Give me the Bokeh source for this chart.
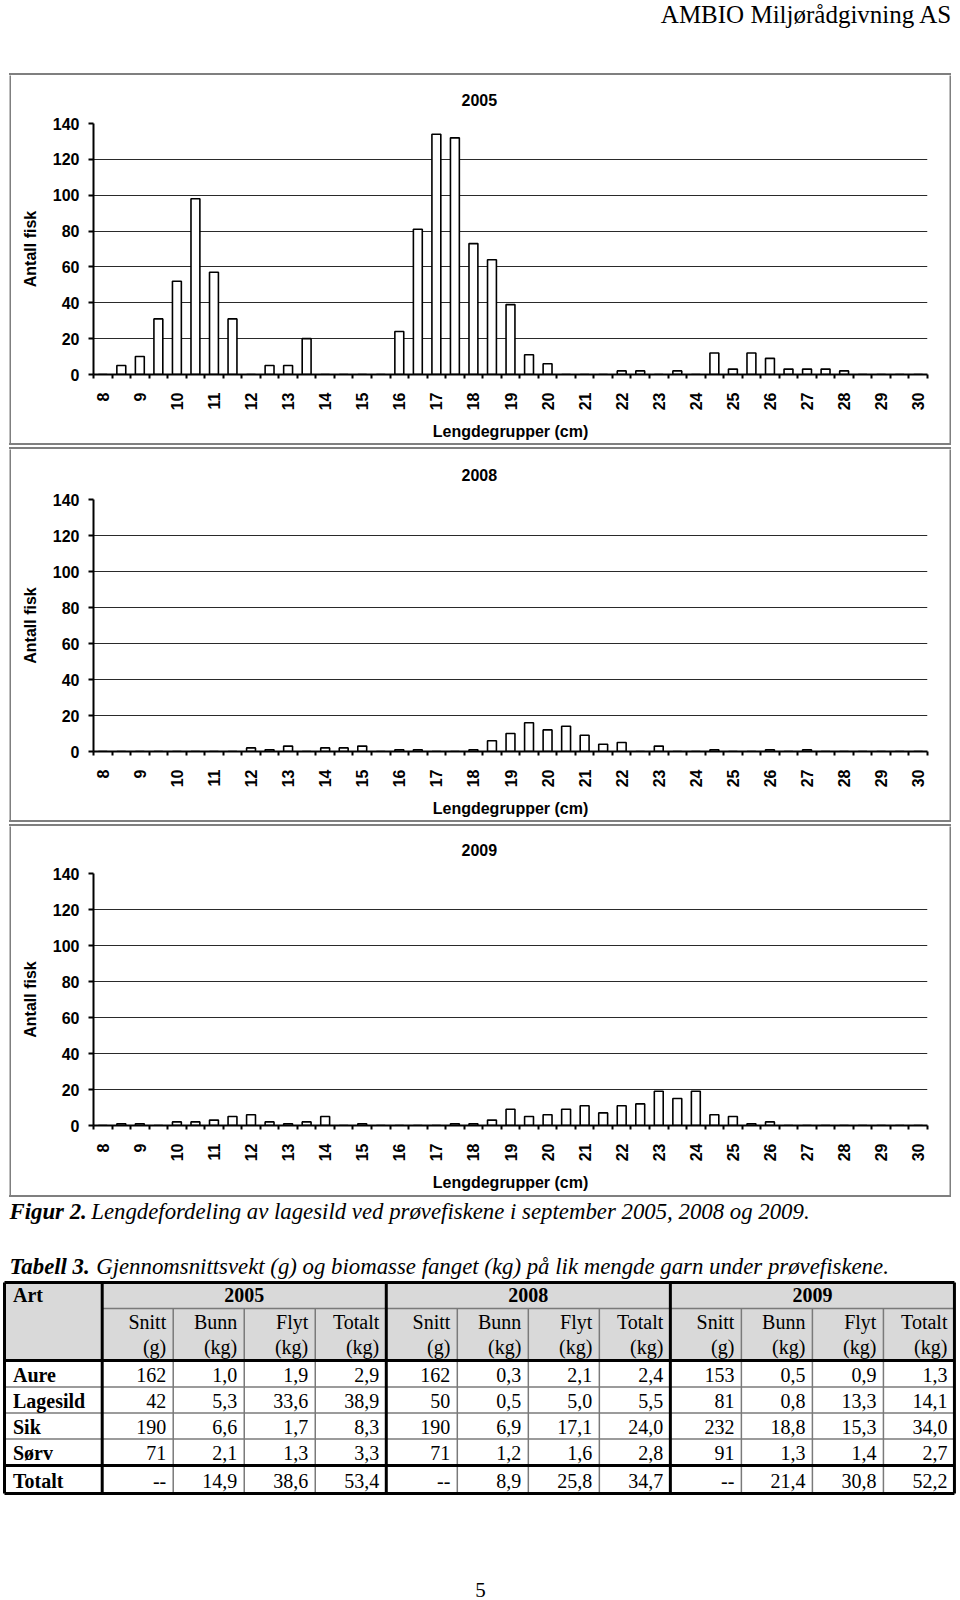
import math
from bokeh.plotting import figure
from bokeh.models import Range1d, FixedTicker, Spacer
from bokeh.layouts import column, row
from bokeh.core.properties import value
from bokeh.embed import file_html
from bokeh.resources import INLINE

# ---------------- data ----------------
lengths = [8, 8.5, 9, 9.5, 10, 10.5, 11, 11.5, 12, 12.5, 13, 13.5, 14, 14.5, 15, 15.5,
           16, 16.5, 17, 17.5, 18, 18.5, 19, 19.5, 20, 20.5, 21, 21.5, 22, 22.5, 23, 23.5,
           24, 24.5, 25, 25.5, 26, 26.5, 27, 27.5, 28, 28.5, 29, 29.5, 30]
tick_labels = [8, 9, 10, 11, 12, 13, 14, 15, 16, 17, 18, 19, 20, 21, 22, 23, 24, 25, 26,
               27, 28, 29, 30]
y_ticks = [0, 20, 40, 60, 80, 100, 120, 140]

counts_2005 = [0, 5, 10, 31, 52, 98, 57, 31, 0, 5, 5, 20, 0, 0, 0, 0,
               24, 81, 134, 132, 73, 64, 39, 11, 6, 0, 0, 0, 2, 2, 0, 2,
               0, 12, 3, 12, 9, 3, 3, 3, 2, 0, 0, 0, 0]
counts_2008 = [0, 0, 0, 0, 0, 0, 0, 0, 2, 1, 3, 0, 2, 2, 3, 0,
               1, 1, 0, 0, 1, 6, 10, 16, 12, 14, 9, 4, 5, 0, 3, 0,
               0, 1, 0, 0, 1, 0, 1, 0, 0, 0, 0, 0, 0]
counts_2009 = [0, 1, 1, 0, 2, 2, 3, 5, 6, 2, 1, 2, 5, 0, 1, 0,
               0, 0, 0, 1, 1, 3, 9, 5, 6, 9, 11, 7, 11, 12, 19, 15,
               19, 6, 5, 1, 2, 0, 0, 0, 0, 0, 0, 0, 0]

header_text = "AMBIO Miljørådgivning AS"
fig_caption_bold = "Figur 2."
fig_caption = "Lengdefordeling av lagesild ved prøvefiskene i september 2005, 2008 og 2009."
tab_caption_bold = "Tabell 3."
tab_caption = "Gjennomsnittsvekt (g) og biomasse fanget (kg) på lik mengde garn under prøvefiskene."

table_years = ["2005", "2008", "2009"]
table_cols = ["Snitt", "Bunn", "Flyt", "Totalt"]
table_units = ["(g)", "(kg)", "(kg)", "(kg)"]
species = ["Aure", "Lagesild", "Sik", "Sørv", "Totalt"]
vals_2005 = [["162", "1,0", "1,9", "2,9"], ["42", "5,3", "33,6", "38,9"],
             ["190", "6,6", "1,7", "8,3"], ["71", "2,1", "1,3", "3,3"],
             ["--", "14,9", "38,6", "53,4"]]
vals_2008 = [["162", "0,3", "2,1", "2,4"], ["50", "0,5", "5,0", "5,5"],
             ["190", "6,9", "17,1", "24,0"], ["71", "1,2", "1,6", "2,8"],
             ["--", "8,9", "25,8", "34,7"]]
vals_2009 = [["153", "0,5", "0,9", "1,3"], ["81", "0,8", "13,3", "14,1"],
             ["232", "18,8", "15,3", "34,0"], ["91", "1,3", "1,4", "2,7"],
             ["--", "21,4", "30,8", "52,2"]]
page_number = "5"

SANS = "Liberation Sans"
SERIF = "Liberation Serif"
BOX_GRAY = "#7f7f7f"


def gray(w, h):
    g = figure(width=w, height=h, output_backend="svg", toolbar_location=None,
               min_border=0, x_axis_location=None, y_axis_location=None,
               title_location=None, frame_align=False)
    g.outline_line_color = None
    g.xgrid.visible = False
    g.ygrid.visible = False
    g.background_fill_color = BOX_GRAY
    g.border_fill_color = BOX_GRAY
    return g


def hline(w):
    return Spacer(width=w, height=2, styles={"background-color": BOX_GRAY})


def make_chart(year, counts, height, top_border):
    frame_h = 252
    p = figure(width=938, height=height, output_backend="svg", toolbar_location=None,
               x_range=Range1d(7.75, 30.25), y_range=Range1d(0, 140),
               min_border_left=82, min_border_right=22, min_border_top=top_border,
               min_border_bottom=height - top_border - frame_h,
               frame_align=False)
    p.outline_line_color = None
    p.background_fill_color = "white"
    p.border_fill_color = "white"

    p.title.text = year
    p.title.align = "left"
    p.title.vertical_align = "top"
    p.title.offset = 368
    p.title.standoff = top_border - 16
    p.title.text_font = SANS
    p.title.text_font_size = "16px"
    p.title.text_font_style = "bold"
    p.title.text_color = "black"

    p.vbar(x=lengths, top=counts, bottom=0, width=0.24, fill_color="white",
           line_color="black", line_width=1.6)

    xa = p.xaxis[0]
    xa.ticker = FixedTicker(ticks=tick_labels,
                            minor_ticks=[7.75 + 0.5 * k for k in range(46)])
    xa.major_tick_out = 0
    xa.major_tick_in = 0
    xa.minor_tick_out = 4
    xa.minor_tick_in = 0
    xa.minor_tick_line_color = "black"
    xa.minor_tick_line_width = 2
    xa.axis_line_width = 2
    xa.axis_line_color = "black"
    xa.major_label_orientation = math.pi / 2
    xa.major_label_standoff = 14
    xa.major_label_text_font = SANS
    xa.major_label_text_font_size = "16px"
    xa.major_label_text_font_style = "bold"
    xa.major_label_text_color = "black"
    xa.axis_label = "Lengdegrupper (cm)"
    xa.axis_label_text_font = SANS
    xa.axis_label_text_font_size = "16px"
    xa.axis_label_text_font_style = "bold"
    xa.axis_label_text_color = "black"
    xa.axis_label_standoff = 10

    ya = p.yaxis[0]
    ya.ticker = FixedTicker(ticks=y_ticks)
    ya.major_tick_out = 5
    ya.major_tick_in = 0
    ya.major_tick_line_width = 2
    ya.minor_tick_out = 0
    ya.minor_tick_in = 0
    ya.axis_line_width = 2
    ya.axis_line_color = "black"
    ya.major_label_standoff = 9
    ya.major_label_text_font = SANS
    ya.major_label_text_font_size = "16px"
    ya.major_label_text_font_style = "bold"
    ya.major_label_text_color = "black"
    ya.axis_label = "Antall fisk"
    ya.axis_label_text_font = SANS
    ya.axis_label_text_font_size = "16px"
    ya.axis_label_text_font_style = "bold"
    ya.axis_label_text_color = "black"
    ya.axis_label_standoff = 11

    p.xgrid.visible = False
    p.ygrid.ticker = FixedTicker(ticks=y_ticks)
    p.ygrid.grid_line_color = "#2a2a2a"
    p.ygrid.grid_line_width = 1
    return p


def boxed(chart, height, gap):
    return column(hline(942),
                  row(gray(2, height), chart, gray(2, height), spacing=0),
                  hline(942), spacing=0, margin=(0, 9, gap, 9))


def blank(height):
    p = figure(width=960, height=height, output_backend="svg", toolbar_location=None,
               x_range=Range1d(0, 960), y_range=Range1d(height, 0),
               min_border=0, x_axis_location=None, y_axis_location=None,
               title_location=None, frame_align=False)
    p.outline_line_color = None
    p.xgrid.visible = False
    p.ygrid.visible = False
    p.background_fill_color = "white"
    p.border_fill_color = "white"
    return p


# ---------------- header ----------------
head = blank(73)
head.text(x=[952], y=[13.5], text=[header_text], text_align="right",
          text_baseline="middle", text_font=value(SERIF),
          text_font_size=value("25px"), text_color="black")

c1 = boxed(make_chart("2005", counts_2005, 368, 48), 368, 2)
c2 = boxed(make_chart("2008", counts_2008, 371, 50), 371, 2)
c3 = boxed(make_chart("2009", counts_2009, 369, 47), 369, 0)

# ---------------- caption + table ----------------
bot = blank(403)
cap_font = value(SERIF)
cap_size = value("22.8px")
bot.text(x=[9], y=[14], text=[fig_caption_bold], text_baseline="middle",
         text_font=cap_font, text_font_size=cap_size, text_font_style="bold italic",
         text_color="black")
bot.text(x=[90.7], y=[14], text=[fig_caption], text_baseline="middle",
         text_font=cap_font, text_font_size=cap_size, text_font_style="italic",
         text_color="black")
bot.text(x=[9], y=[69], text=[tab_caption_bold], text_baseline="middle",
         text_font=cap_font, text_font_size=cap_size, text_font_style="bold italic",
         text_color="black")
bot.text(x=[95.7], y=[69], text=[tab_caption], text_baseline="middle",
         text_font=cap_font, text_font_size=cap_size, text_font_style="italic",
         text_color="black")

left = 4.0
art_w = 97.7
col_w = 71.02
xedges = [left, left + art_w] + [left + art_w + col_w * (k + 1) for k in range(12)]
yedges = [85, 111, 163, 189.5, 215.5, 241.5, 268, 296]

# header background
bot.quad(left=[xedges[0]], right=[xedges[-1]], top=[yedges[0]], bottom=[yedges[2]],
         fill_color="#d9d9d9", line_color=None)

# thin grey lines
thin_x0, thin_x1, thin_y0, thin_y1 = [], [], [], []
for g in range(3):
    for c in range(1, 4):
        xe = xedges[1 + g * 4 + c]
        thin_x0.append(xe); thin_x1.append(xe); thin_y0.append(yedges[1]); thin_y1.append(yedges[-1])
thin_x0.append(xedges[1]); thin_x1.append(xedges[-1]); thin_y0.append(yedges[1]); thin_y1.append(yedges[1])
for r in (3, 4, 5):
    thin_x0.append(xedges[0]); thin_x1.append(xedges[-1]); thin_y0.append(yedges[r]); thin_y1.append(yedges[r])
bot.segment(x0=thin_x0, y0=thin_y0, x1=thin_x1, y1=thin_y1, line_color="#7a7a7a", line_width=1.5)

# thick black lines
tk_x0, tk_x1, tk_y0, tk_y1 = [], [], [], []
for xe in [xedges[0], xedges[1], xedges[5], xedges[9], xedges[13]]:
    tk_x0.append(xe); tk_x1.append(xe); tk_y0.append(yedges[0]); tk_y1.append(yedges[-1])
for ye in [yedges[0], yedges[2], yedges[6], yedges[7]]:
    tk_x0.append(xedges[0]); tk_x1.append(xedges[-1]); tk_y0.append(ye); tk_y1.append(ye)
bot.segment(x0=tk_x0, y0=tk_y0, x1=tk_x1, y1=tk_y1, line_color="black", line_width=3)

tfont = value(SERIF)
tsize = value("20px")
# header texts
bot.text(x=[12.5], y=[97], text=["Art"], text_baseline="middle", text_font=tfont,
         text_font_size=tsize, text_font_style="bold", text_color="black")
yx = [(xedges[1 + g * 4] + xedges[5 + g * 4]) / 2 for g in range(3)]
bot.text(x=yx, y=[97] * 3, text=table_years, text_align="center", text_baseline="middle",
         text_font=tfont, text_font_size=tsize, text_font_style="bold", text_color="black")
sx, s1, s2 = [], [], []
for g in range(3):
    for c in range(4):
        sx.append(xedges[2 + g * 4 + c] - 7)
        s1.append(table_cols[c])
        s2.append(table_units[c])
bot.text(x=sx, y=[124] * 12, text=s1, text_align="right", text_baseline="middle",
         text_font=tfont, text_font_size=tsize, text_color="black")
bot.text(x=sx, y=[149.5] * 12, text=s2, text_align="right", text_baseline="middle",
         text_font=tfont, text_font_size=tsize, text_color="black")

# body
row_y = [(yedges[2 + r] + yedges[3 + r]) / 2 + 1 for r in range(5)]
bot.text(x=[12.5] * 5, y=row_y, text=species, text_baseline="middle", text_font=tfont,
         text_font_size=tsize, text_font_style="bold", text_color="black")
bx, by, bt = [], [], []
for g, vals in enumerate([vals_2005, vals_2008, vals_2009]):
    for r in range(5):
        for c in range(4):
            bx.append(xedges[2 + g * 4 + c] - 7)
            by.append(row_y[r])
            bt.append(vals[r][c])
bot.text(x=bx, y=by, text=bt, text_align="right", text_baseline="middle",
         text_font=tfont, text_font_size=tsize, text_color="black")

bot.text(x=[480], y=[392], text=[page_number], text_align="center",
         text_baseline="middle", text_font=tfont, text_font_size=value("21px"),
         text_color="black")

layout = column(head, c1, c2, c3, bot, spacing=0)
open("out.html", "w").write(file_html(layout, INLINE))
